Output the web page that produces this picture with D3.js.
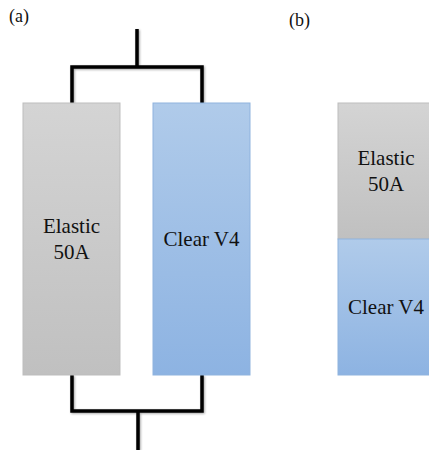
<!DOCTYPE html>
<html>
<head>
<meta charset="utf-8">
<script src="https://cdn.jsdelivr.net/npm/d3@7"></script>
<style>
  body { margin: 0; background: #fff; }
  svg { display: block; }
</style>
</head>
<body>
<div id="chart"></div>
<script>
// Panel labels
var panels = ["(a)", "(b)"];
// Materials in each panel (a: parallel, b: series)
var parallelBlocks = ["Elastic 50A", "Clear V4"];
var seriesBlocks = ["Elastic 50A", "Clear V4"];
// how each label is broken into lines
var parallelLines = [["Elastic", "50A"], ["Clear V4"]];
var seriesLines = [["Elastic", "50A"], ["Clear V4"]];
var materialFill = ["gray", "blue"];

var serif = "Times New Roman";
var width = 429, height = 450;
var svg = d3.select("#chart").append("svg")
    .attr("width", width)
    .attr("height", height);

// gradients for the blocks
var defs = svg.append("defs");
var grads = {
    gray: ["#d4d4d4", "#c0c0c0"],
    blue: ["#b0cbea", "#8db3e2"]
};
Object.keys(grads).forEach(function(k) {
    var g = defs.append("linearGradient")
        .attr("id", "grad-" + k)
        .attr("x1", 0).attr("y1", 0).attr("x2", 0).attr("y2", 1);
    g.append("stop").attr("offset", "0%").attr("stop-color", grads[k][0]);
    g.append("stop").attr("offset", "100%").attr("stop-color", grads[k][1]);
});
var shadow = defs.append("filter").attr("id", "shadow")
    .attr("x", "-50%").attr("y", "-50%").attr("width", "200%").attr("height", "200%");
shadow.append("feDropShadow").attr("dx", 1).attr("dy", 1)
    .attr("stdDeviation", 0.8).attr("flood-color", "#000").attr("flood-opacity", 0.35);

// ---------- (a) parallel ----------
var xA = d3.scaleBand()
    .domain(parallelBlocks)
    .range([23, 250])
    .paddingInner(0.254);
var topY = 103, botY = 375;

var wiresA = svg.append("g")
    .attr("fill", "none")
    .attr("stroke", "#000")
    .attr("stroke-width", 3.5)
    .attr("filter", "url(#shadow)");

var cx = function(d) { return xA(d) + xA.bandwidth() / 2 + 0.5; };
var c0 = cx(parallelBlocks[0]), c1 = cx(parallelBlocks[1]);
var midA = (c0 + c1) / 2;
wiresA.append("path")
    .attr("d", "M" + midA + ",29 V67 M" + c0 + "," + topY + " V67 H" + c1 + " V" + topY);
wiresA.append("path")
    .attr("d", "M" + (midA + 1) + ",450 V411 M" + c0 + "," + botY + " V411 H" + c1 + " V" + botY);

svg.selectAll("rect.pa")
    .data(parallelBlocks)
    .enter()
    .append("rect")
    .attr("class", "pa")
    .attr("x", function(d) { return xA(d); })
    .attr("y", topY)
    .attr("width", xA.bandwidth())
    .attr("height", botY - topY)
    .attr("fill", function(d, i) { return "url(#grad-" + materialFill[i] + ")"; })
    .attr("stroke", function(d, i) { return i == 0 ? "#bdbdbd" : "#8fb3de"; })
    .attr("stroke-width", 1);

// ---------- (b) series ----------
var yB = d3.scaleBand()
    .domain(seriesBlocks)
    .range([topY, botY]);
var xB0 = 338, wB = 96, cxB = xB0 + wB / 2;

svg.append("g")
    .attr("fill", "none")
    .attr("stroke", "#000")
    .attr("stroke-width", 3.5)
    .attr("filter", "url(#shadow)")
    .selectAll("path")
    .data([[47, topY], [botY, 430]])
    .enter()
    .append("path")
    .attr("d", function(d) { return "M" + cxB + "," + d[0] + " V" + d[1]; });

svg.selectAll("rect.sb")
    .data(seriesBlocks)
    .enter()
    .append("rect")
    .attr("class", "sb")
    .attr("x", xB0)
    .attr("y", function(d) { return yB(d); })
    .attr("width", wB)
    .attr("height", yB.bandwidth())
    .attr("fill", function(d, i) { return "url(#grad-" + materialFill[i] + ")"; })
    .attr("stroke", function(d, i) { return i == 0 ? "#bdbdbd" : "#8fb3de"; })
    .attr("stroke-width", 1);

// ---------- all text ----------
var labels = [];
panels.forEach(function(p, i) {
    labels.push({ text: p, x: i == 0 ? 9 : 289, y: i == 0 ? 22 : 26, size: 18, anchor: "start" });
});
function pushLines(lines, x, midY) {
    var y0 = midY - (lines.length - 1) * 26 / 2;
    lines.forEach(function(line, j) {
        labels.push({ text: line, x: x, y: y0 + j * 26, size: 21, anchor: "middle" });
    });
}
parallelBlocks.forEach(function(d, i) {
    pushLines(parallelLines[i], xA(d) + xA.bandwidth() / 2, (topY + botY) / 2 + 7);
});
seriesBlocks.forEach(function(d, i) {
    pushLines(seriesLines[i], cxB, yB(d) + yB.bandwidth() / 2 + 7);
});

svg.selectAll("text")
    .data(labels)
    .enter()
    .append("text")
    .attr("x", function(d) { return d.x; })
    .attr("y", function(d) { return d.y; })
    .attr("text-anchor", function(d) { return d.anchor; })
    .attr("font-family", serif)
    .attr("font-size", function(d) { return d.size; })
    .attr("fill", "#111")
    .text(function(d) { return d.text; });
</script>
</body>
</html>
